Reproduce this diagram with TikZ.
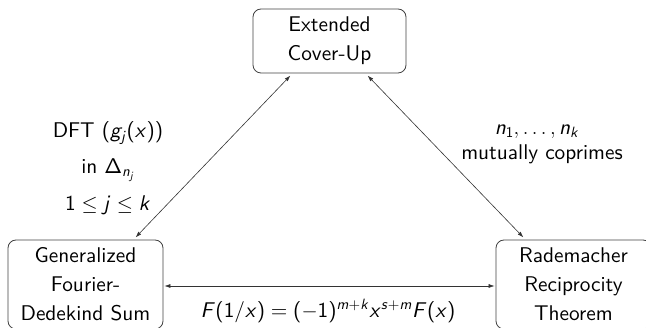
\documentclass[tikz,border=0pt]{standalone}
\usetikzlibrary{arrows.meta,calc}
\DeclareFontFamily{TU}{lmssx}{}
\DeclareFontShape{TU}{lmssx}{m}{n}{<-> \UnicodeFontFile{lmsans10-regular}{\UnicodeFontTeXLigatures}}{}
\DeclareFontFamily{OT1}{cmssx}{\hyphenchar\font45 }
\DeclareFontShape{OT1}{cmssx}{m}{n}{<-> cmss10}{}
\DeclareFontShape{OT1}{cmssx}{m}{sl}{<-> cmssi10}{}
\renewcommand\sfdefault{lmssx}
\DeclareSymbolFont{sfop}{OT1}{cmssx}{m}{n}
\DeclareSymbolFont{sflet}{OT1}{cmssx}{m}{sl}
\makeatletter
\@for\ltr:={a,b,c,d,e,f,g,h,i,j,k,l,m,n,o,p,q,r,s,t,u,v,w,x,y,z,A,B,C,D,E,F,G,H,I,J,K,L,M,N,O,P,Q,R,S,T,U,V,W,X,Y,Z}\do{%
  \expandafter\DeclareMathSymbol\expandafter{\ltr}{\mathalpha}{sflet}{\expandafter`\ltr}}
\@for\dg:={0,1,2,3,4,5,6,7,8,9}\do{%
  \expandafter\DeclareMathSymbol\expandafter{\dg}{\mathalpha}{sfop}{\expandafter`\dg}}
\makeatother
\DeclareMathSymbol{(}{\mathopen}{sfop}{`(}
\DeclareMathSymbol{)}{\mathclose}{sfop}{`)}
\DeclareMathSymbol{/}{\mathord}{sfop}{`/}
\DeclareMathSymbol{=}{\mathrel}{sfop}{`=}
\DeclareMathSymbol{+}{\mathbin}{sfop}{`+}
\DeclareMathSymbol{\Delta}{\mathalpha}{sfop}{1}
\begin{document}
\begin{tikzpicture}[x=1pt,y=-1pt,
  every node/.style={font=\fontsize{21.3}{28.8}\selectfont\sffamily},
  box/.style={draw=black!75,line width=0.8pt,rounded corners=8pt,align=center,inner sep=0pt},
  link/.style={draw=black!80,line width=0.6pt,{Latex[length=6pt,width=4pt]}-{Latex[length=6pt,width=4pt]},shorten <=3pt,shorten >=3pt},
  lab/.style={align=center,inner sep=0pt}]
\useasboundingbox (0,0) rectangle (646,328);
\node[box,minimum width=153pt,minimum height=64pt] (top) at (329.5,41) {Extended\\Cover-Up};
\node[box,minimum width=155pt,minimum height=89pt] (gfd) at (85.5,284.5) {Generalized\\Fourier-\\Dedekind Sum};
\node[box,minimum width=155pt,minimum height=89pt] (rrt) at (573.5,284.5) {Rademacher\\Reciprocity\\Theorem};
\coordinate (t1) at ($(top.south)+(-37,0)$);
\coordinate (t2) at ($(top.south)+(36,0)$);
\coordinate (g1) at ($(gfd.north)+(48,0)$);
\coordinate (r1) at ($(rrt.north)+(-48,0)$);
\draw[link] (t1) -- (g1);
\draw[link] (t2) -- (r1);
\draw[link,shorten <=1pt,shorten >=1pt] (gfd.east |- 0,286) -- (rrt.west |- 0,286);
\node[lab] (dft) at (108,133) {DFT $(g_j(x))$};
\node[lab] (ind) at (108,170) {in $\Delta_{n_j}$};
\node[lab] (rng) at (108,205) {$1\le j\le k$};
\node[lab] (nk) at (537,132) {$n_1,\ldots,n_k$};
\node[lab] (mc) at (542,154) {mutually coprimes};
\node[lab] (eq) at (328,311) {$F(1/x)=(-1)^{m+k}x^{s+m}F(x)$};
\end{tikzpicture}
\end{document}
